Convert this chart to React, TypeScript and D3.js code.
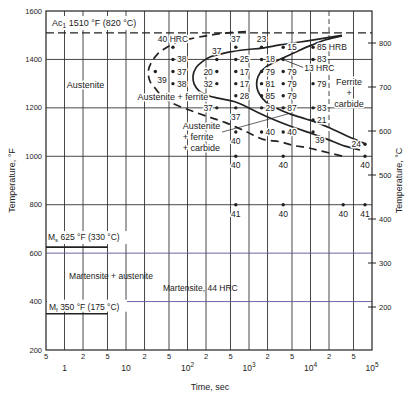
import React from "react";
import * as d3 from "d3";

// ---------- axes / ticks ----------
const gridTimes = [1, 2, 5, 10, 20, 50, 100, 200, 500, 1000, 2000, 5000, 10000, 20000, 50000];
const minorLabelTimes = [0.5, 2, 5, 20, 50, 200, 500, 2000, 5000, 20000, 50000];
const minorLabels = ["5", "2", "5", "2", "5", "2", "5", "2", "5", "2", "5"];
const decadeTimes = [1, 10, 100, 1000, 10000, 100000];
const decadeBase = ["1", "10", "10", "10", "10", "10"];
const decadeExp = ["", "", "2", "3", "4", "5"];
const tempTicksF = [200, 400, 600, 800, 1000, 1200, 1400, 1600];
const gridTempsF = [400, 600, 800, 1000, 1200, 1400];
const tempTicksC = [200, 300, 400, 500, 600, 700, 800];

// ---------- critical temperatures ----------
const ac1F = 1510;
const msF = 625;
const mfF = 350;
const mLineEndTime = 5;

// ---------- hardness measurement points ----------
const pointTimes = [
  58, 58, 58, 58, 30,
  300, 300, 300, 300,
  610, 610, 610, 610, 610, 610, 610, 610, 610,
  1600, 1600, 1600, 1600, 1600, 1600, 1600,
  3600, 3600, 3600, 3600, 3600, 3600, 3600, 3600, 3600,
  11000, 11000, 11000, 11000, 11000, 11000,
  77000, 77000, 34000, 77000,
];
const pointTemps = [
  1450, 1400, 1350, 1300, 1350,
  1400, 1350, 1300, 1200,
  1450, 1400, 1350, 1300, 1250, 1200, 1100, 1000, 800,
  1450, 1400, 1350, 1300, 1250, 1200, 1100,
  1450, 1400, 1350, 1300, 1250, 1200, 1100, 1000, 800,
  1450, 1400, 1300, 1200, 1150, 1100,
  1050, 1000, 800, 800,
];
const pointLabels = [
  "40 HRC", "38", "37", "38", "39",
  "37", "20", "32", "37",
  "37", "25", "17", "17", "28", "37", "40", "40", "41",
  "23", "18", "79", "81", "85", "29", "40",
  "15", "", "79", "79", "79", "87", "40", "40", "40",
  "85 HRB", "83", "79", "83", "21", "39",
  "24", "40", "40", "41",
];
const labelSide = [
  "above", "right", "right", "right", "belowright",
  "above", "left", "left", "left",
  "above", "right", "right", "right", "right", "below", "below", "below", "below",
  "above", "right", "right", "right", "right", "right", "right",
  "right", "none", "right", "right", "right", "right", "right", "below", "below",
  "right", "right", "right", "right", "right", "belowright",
  "left", "below", "below", "below",
];

// ---------- transformation curves [time s, temperature °F] ----------
const startCurve: [number, number][] = [
  [890, 1515], [455, 1510], [230, 1500], [110, 1485], [65, 1470], [43, 1445],
  [32, 1420], [25.5, 1385], [23, 1350], [24.5, 1310], [30, 1280], [38, 1250],
  [56, 1220], [110, 1190], [207, 1165], [407, 1140], [930, 1100], [1690, 1070],
  [3200, 1060], [5200, 1045], [9100, 1035], [16000, 1020], [33800, 1000],
];
const carbideStartCurve: [number, number][] = [
  [32500, 1500], [14300, 1485], [6750, 1472], [3200, 1460], [1630, 1447],
  [860, 1440], [490, 1431], [340, 1422], [232, 1410], [172, 1390], [137, 1365],
  [123, 1332], [128, 1299], [154, 1270], [200, 1253], [313, 1240], [590, 1225],
  [1250, 1187], [2190, 1158], [4640, 1125], [11000, 1092], [18500, 1071],
  [36400, 1042], [63800, 1026],
];
const finishCurve: [number, number][] = [
  [32500, 1497], [17200, 1480], [10600, 1460], [6260, 1435], [3850, 1410],
  [2650, 1390], [1890, 1369], [1510, 1344], [1350, 1315], [1350, 1282],
  [1510, 1253], [1890, 1224], [2750, 1199], [4640, 1175], [8450, 1154],
  [11800, 1142], [20700, 1117], [39200, 1084], [79900, 1051],
];
const leaderLine: [number, number][] = [[364, 1100], [4300, 1175]];

const W = 410;
const H = 396;
const x = d3.scaleLog().domain([0.5, 1e5]).range([46, 372]);
const y = d3.scaleLinear().domain([200, 1600]).range([350, 11]);
const yC = d3.scaleLinear().domain([200, 800]).range([307, 43]);

const FONT = "'Liberation Sans', Arial, Helvetica, sans-serif";
const INK = "#222";
const GRID = "#333";

export default function App() {
  const curve = d3
    .line<[number, number]>()
    .x((d) => x(d[0]))
    .y((d) => y(d[1]))
    .curve(d3.curveCatmullRom.alpha(0.5));
  const straight = d3
    .line<[number, number]>()
    .x((d) => x(d[0]))
    .y((d) => y(d[1]));

  const halo = {
    stroke: "#fff",
    strokeWidth: 3,
    paintOrder: "stroke" as const,
    strokeLinejoin: "round" as const,
  };
  const x0 = x(0.5);
  const x1 = x(1e5);
  const yTop = y(1600);
  const yBot = y(200);

  const labelPos = (px: number, py: number, side: string) => {
    switch (side) {
      case "right":
        return { tx: px + 4, ty: py + 3, anchor: "start" };
      case "left":
        return { tx: px - 4, ty: py + 3, anchor: "end" };
      case "above":
        return { tx: px, ty: py - 5, anchor: "middle" };
      case "below":
        return { tx: px, ty: py + 12, anchor: "middle" };
      case "belowright":
        return { tx: px + 2, ty: py + 11, anchor: "start" };
      default:
        return { tx: px, ty: py, anchor: "start" };
    }
  };

  const i13 = pointLabels.indexOf("");
  const p13x = x(pointTimes[i13]);
  const p13y = y(pointTemps[i13]);

  return (
    <svg
      width={W}
      height={H}
      style={{ position: "absolute", left: 0, top: 0, background: "#fff" }}
      fontFamily={FONT}
    >
      <rect x={0} y={0} width={W} height={H} fill="#fff" />
      {/* vertical grid */}
      {gridTimes.map((t) =>
        t === 20000 ? (
          <g key={t}>
            <line x1={x(t)} x2={x(t)} y1={yTop} y2={y(1100)} stroke={GRID} strokeWidth={0.9} strokeDasharray="5,3" />
            <line x1={x(t)} x2={x(t)} y1={y(1100)} y2={yBot} stroke={GRID} strokeWidth={0.9} />
          </g>
        ) : (
          <line key={t} x1={x(t)} x2={x(t)} y1={yTop} y2={yBot} stroke={GRID} strokeWidth={0.9} />
        )
      )}
      {/* horizontal grid */}
      {gridTempsF.map((T) => (
        <line
          key={T}
          x1={x0}
          x2={x1}
          y1={y(T)}
          y2={y(T)}
          stroke={T === 600 || T === 400 ? "#5e5398" : GRID}
          strokeWidth={0.9}
        />
      ))}
      {/* frame */}
      <rect x={x0} y={yTop} width={x1 - x0} height={yBot - yTop} fill="none" stroke={INK} strokeWidth={1.2} />

      {/* Ac1 */}
      <line x1={x0} x2={x1} y1={y(ac1F)} y2={y(ac1F)} stroke={INK} strokeWidth={1.3} strokeDasharray="8,4" />
      <rect x={x0 + 3} y={yTop + 5} width={92} height={14} fill="#fff" />
      <text x={x0 + 6} y={yTop + 15} fontSize={9} fill={INK}>
        Ac<tspan fontSize={6.5} dy={2}>1</tspan>
        <tspan dy={-2}> 1510 °F (820 °C)</tspan>
      </text>

      {/* Ms / Mf */}
      <rect x={x0 + 1} y={y(msF) - 16} width={80} height={13} fill="#fff" />
      <line x1={x0} x2={x(mLineEndTime)} y1={y(msF)} y2={y(msF)} stroke={INK} strokeWidth={1.6} />
      <text x={x0 + 2} y={y(msF) - 7} fontSize={8.5} fill={INK}>
        M<tspan fontSize={6} dy={2}>s</tspan>
        <tspan dy={-2}> 625 °F (330 °C)</tspan>
      </text>
      <rect x={x0 + 1} y={y(mfF) - 14} width={80} height={12} fill="#fff" />
      <line x1={x0} x2={x(mLineEndTime)} y1={y(mfF)} y2={y(mfF)} stroke={INK} strokeWidth={1.6} />
      <text x={x0 + 3} y={y(mfF) - 4} fontSize={8.5} fill={INK}>
        M<tspan fontSize={6} dy={2}>f</tspan>
        <tspan dy={-2}> 350 °F (175 °C)</tspan>
      </text>

      {/* curves */}
      <path d={curve(startCurve) || ""} fill="none" stroke={INK} strokeWidth={1.7} strokeDasharray="8,5" />
      <path d={curve(carbideStartCurve) || ""} fill="none" stroke={INK} strokeWidth={1.7} />
      <path d={curve(finishCurve) || ""} fill="none" stroke={INK} strokeWidth={1.7} />
      <path d={straight(leaderLine) || ""} fill="none" stroke={INK} strokeWidth={0.7} />
      <line x1={p13x + 2} y1={p13y + 1} x2={p13x + 20} y2={p13y + 8} stroke={INK} strokeWidth={0.8} />

      {/* region labels */}
      <g fontSize={9} fill={INK} {...halo}>
        <text x={x(2.2)} y={y(1282)} textAnchor="middle">Austenite</text>
        <text x={x(58)} y={y(1232)} textAnchor="middle">Austenite + ferrite</text>
        <text x={x(84)} y={y(1113)}>Austenite</text>
        <text x={x(84)} y={y(1113) + 11}>+ ferrite</text>
        <text x={x(84)} y={y(1113) + 22}>+ carbide</text>
        <text x={x(42300)} y={y(1294)} textAnchor="middle">Ferrite</text>
        <text x={x(42300)} y={y(1249)} textAnchor="middle">+</text>
        <text x={x(42300)} y={y(1204)} textAnchor="middle">carbide</text>
      </g>
      <text x={p13x + 21} y={p13y + 12} fontSize={8.5} fill={INK} {...halo}>13 HRC</text>
      <g fontSize={8.5} fill={INK}>
        <text x={x(5.7)} y={y(493)} textAnchor="middle">Martensite + austenite</text>
        <text x={x(40)} y={y(444)}>Martensite, 44 HRC</text>
      </g>

      {/* points */}
      {pointTimes.map((t, i) => {
        const px = x(t);
        const py = y(pointTemps[i]);
        const lp = labelPos(px, py, labelSide[i]);
        return (
          <g key={i}>
            {pointLabels[i] !== "" && (
              <text x={lp.tx} y={lp.ty} textAnchor={lp.anchor as any} fontSize={8.5} fill={INK} {...halo}>
                {pointLabels[i]}
              </text>
            )}
            <circle cx={px} cy={py} r={1.7} fill={INK} />
          </g>
        );
      })}

      {/* left axis */}
      {tempTicksF.map((T) => (
        <text key={T} x={x0 - 4} y={y(T) + 2.5} textAnchor="end" fontSize={7.5} fill={INK}>
          {T}
        </text>
      ))}
      <text
        transform={`translate(15,${(yTop + yBot) / 2}) rotate(-90)`}
        textAnchor="middle"
        fontSize={9}
        fill={INK}
      >
        Temperature, °F
      </text>

      {/* right axis */}
      {tempTicksC.map((c) => (
        <g key={c}>
          <line x1={x1 - 4} x2={x1 + 4} y1={yC(c)} y2={yC(c)} stroke={INK} strokeWidth={1} />
          <text x={x1 + 7} y={yC(c) + 2.5} fontSize={7.5} fill={INK}>
            {c}
          </text>
        </g>
      ))}
      <text
        transform={`translate(402,${(yTop + yBot) / 2}) rotate(-90)`}
        textAnchor="middle"
        fontSize={9}
        fill={INK}
      >
        Temperature, °C
      </text>

      {/* bottom axis */}
      {minorLabelTimes.map((t, i) => (
        <text key={t} x={x(t)} y={yBot + 9} textAnchor="middle" fontSize={7.5} fill={INK}>
          {minorLabels[i]}
        </text>
      ))}
      {decadeTimes.map((t, i) => (
        <text key={t} x={x(t)} y={yBot + 21} textAnchor="middle" fontSize={8.5} fill={INK}>
          {decadeBase[i]}
          {decadeExp[i] !== "" && (
            <tspan fontSize={6.5} dy={-4}>
              {decadeExp[i]}
            </tspan>
          )}
        </text>
      ))}
      <text x={210} y={yBot + 40} textAnchor="middle" fontSize={9} fill={INK}>
        Time, sec
      </text>
    </svg>
  );
}
